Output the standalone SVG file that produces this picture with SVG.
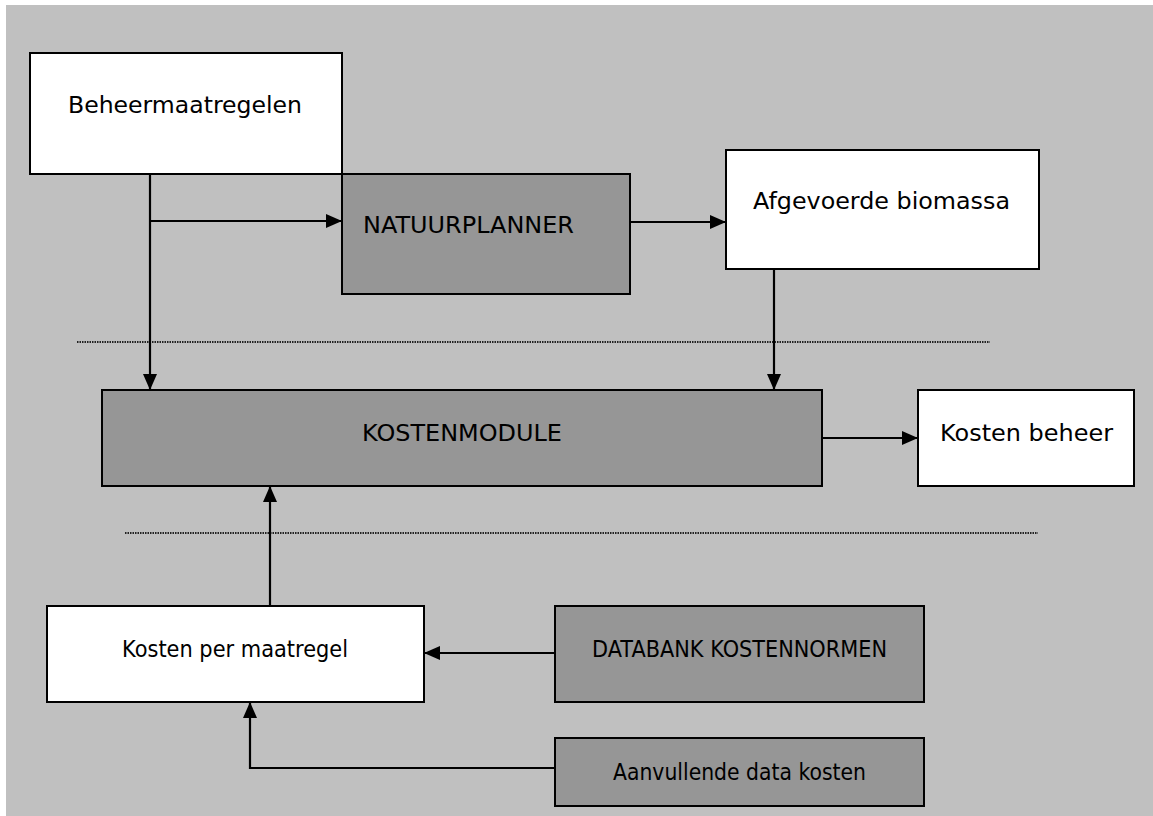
<svg xmlns="http://www.w3.org/2000/svg" width="1153" height="816" viewBox="0 0 1153 816">
<defs>
<style>
.bg{fill:#c0c0c0}
.w{fill:#ffffff;stroke:#000;stroke-width:2}
.g{fill:#969696;stroke:#000;stroke-width:2}
.t{font-family:"DejaVu Sans","Liberation Sans",sans-serif;font-size:23px;fill:#000}
.c{fill:none;stroke:#000;stroke-width:2.2}
.d{fill:none;stroke:#222;stroke-width:2;stroke-dasharray:1.5 1}
</style>
<marker id="ah" markerUnits="userSpaceOnUse" markerWidth="16" markerHeight="14" refX="16" refY="7" orient="auto">
<path d="M0,0 L16,7 L0,14 z" fill="#000"/>
</marker>
</defs>
<rect x="0" y="0" width="1153" height="816" fill="#ffffff"/>
<rect class="bg" x="6" y="5" width="1147" height="811"/>
<g id="separators">
<line class="d" x1="77" y1="342" x2="990" y2="342"/>
<line class="d" x1="125" y1="533" x2="1038" y2="533"/>
</g>
<g id="connectors">
<path class="c" d="M150,174 V390" marker-end="url(#ah)"/>
<path class="c" d="M150,221 H342" marker-end="url(#ah)"/>
<path class="c" d="M630,222 H726" marker-end="url(#ah)"/>
<path class="c" d="M774,269 V390" marker-end="url(#ah)"/>
<path class="c" d="M822,438 H918" marker-end="url(#ah)"/>
<path class="c" d="M270,606 V486" marker-end="url(#ah)"/>
<path class="c" d="M557,653 H424" marker-end="url(#ah)"/>
<path class="c" d="M557,768 H250 V702" marker-end="url(#ah)"/>
</g>
<g id="beheermaatregelen">
<rect class="w" x="30" y="53" width="312" height="121"/>
<text class="t" x="68" y="113" textLength="234" lengthAdjust="spacingAndGlyphs">Beheermaatregelen</text>
</g>
<g id="natuurplanner">
<rect class="g" x="342" y="174" width="288" height="120"/>
<text class="t" x="363" y="233" textLength="211" lengthAdjust="spacingAndGlyphs">NATUURPLANNER</text>
</g>
<g id="afgevoerde">
<rect class="w" x="726" y="150" width="313" height="119"/>
<text class="t" x="753" y="209" textLength="257" lengthAdjust="spacingAndGlyphs">Afgevoerde biomassa</text>
</g>
<g id="kostenmodule">
<rect class="g" x="102" y="390" width="720" height="96"/>
<text class="t" x="362" y="441" textLength="200" lengthAdjust="spacingAndGlyphs">KOSTENMODULE</text>
</g>
<g id="kostenbeheer">
<rect class="w" x="918" y="390" width="216" height="96"/>
<text class="t" x="940" y="441" textLength="173" lengthAdjust="spacingAndGlyphs">Kosten beheer</text>
</g>
<g id="kostenpermaatregel">
<rect class="w" x="47" y="606" width="377" height="96"/>
<text class="t" x="122" y="657" textLength="226" lengthAdjust="spacingAndGlyphs">Kosten per maatregel</text>
</g>
<g id="databank">
<rect class="g" x="555" y="606" width="369" height="96"/>
<text class="t" x="592" y="657" textLength="295" lengthAdjust="spacingAndGlyphs">DATABANK KOSTENNORMEN</text>
</g>
<g id="aanvullende">
<rect class="g" x="555" y="738" width="369" height="68"/>
<text class="t" x="613" y="780" textLength="253" lengthAdjust="spacingAndGlyphs">Aanvullende data kosten</text>
</g>
</svg>
